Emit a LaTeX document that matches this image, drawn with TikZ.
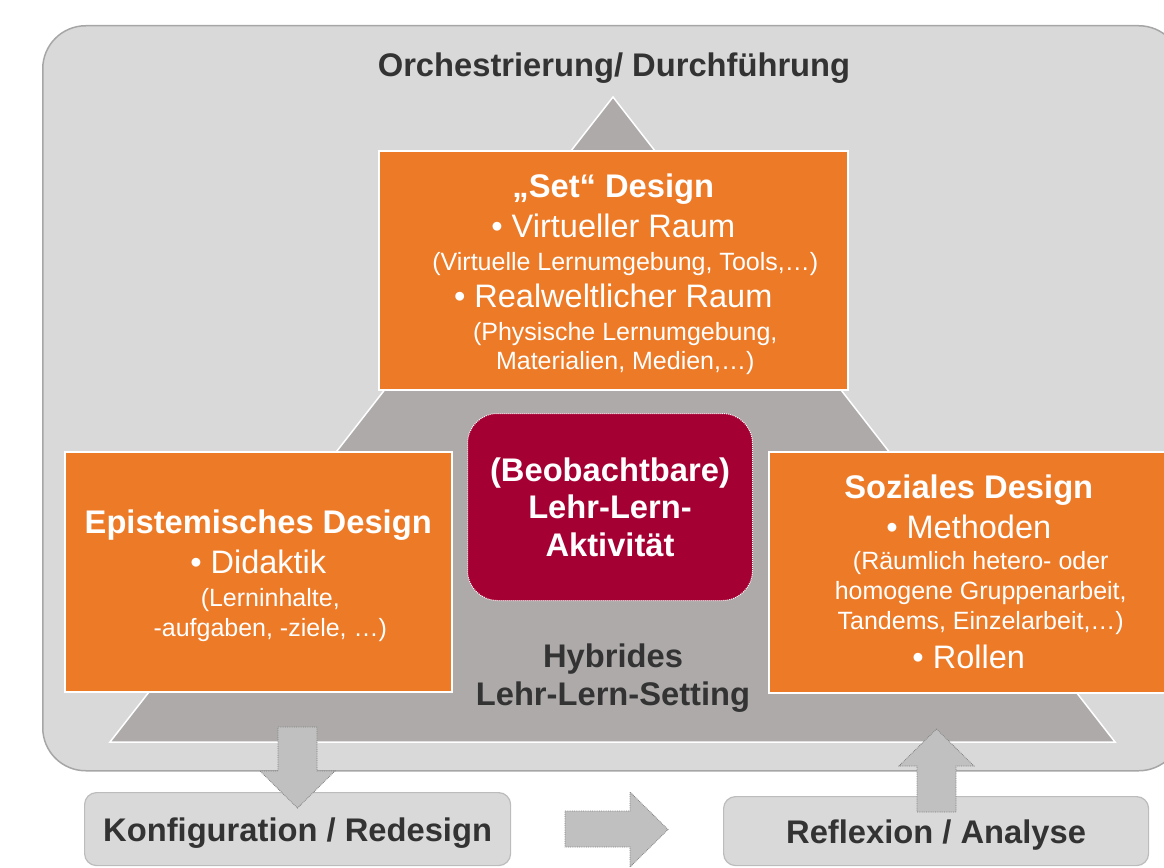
\documentclass[tikz,border=0pt]{standalone}
\usepackage{fontspec}
\setmainfont{Liberation Sans}

\definecolor{framefill}{HTML}{D9D9D9}
\definecolor{frameedge}{HTML}{A6A6A6}
\definecolor{pyramid}{HTML}{AEAAAA}
\definecolor{designorange}{HTML}{ED7A27}
\definecolor{activityred}{HTML}{A50034}
\definecolor{darktext}{HTML}{333333}
\definecolor{arrowfill}{HTML}{C0C0C0}
\definecolor{arrowedge}{HTML}{7F7F7F}

% font sizes: headings, bullet items, notes in parentheses
\newcommand\hdfnt{\fontsize{32.7pt}{38pt}\selectfont\bfseries}
\newcommand\itfnt{\fontsize{32.5pt}{38pt}\selectfont}
\newcommand\ntfnt{\fontsize{25pt}{31pt}\selectfont}
\newcommand\ntpad{\hspace*{24pt}}
% taller first line, pushes a text block a little lower in its box
\newcommand\toprule{\rule{0pt}{32pt}}

\begin{document}
\begin{tikzpicture}[x=1pt,y=-1pt,
  designbox/.style={draw=white, line width=1.5pt, fill=designorange, text=white,
    align=center, inner sep=0pt, anchor=north west, font=\ntfnt},
  bottombox/.style={draw=frameedge!75, line width=1.2pt, fill=framefill,
    rounded corners=12pt, text=darktext, font=\hdfnt, inner sep=0pt, anchor=north west},
  blockarrow/.style={fill=arrowfill, draw=arrowedge, densely dotted, line width=0.8pt}]
\useasboundingbox (0,0) rectangle (1164,867);
\clip (0,0) rectangle (1164,867);

% outer frame
\node[draw=frameedge, line width=1.5pt, fill=framefill, rounded corners=43pt,
  minimum width=1139pt, minimum height=745pt, anchor=north west, inner sep=0pt] (frame) at (42,25) {};

% pyramid of the hybrid setting
\path[fill=pyramid, draw=white, line width=1.5pt] (613,97) -- (110,742) -- (1115,742) -- cycle;

\node[anchor=base, text=darktext, font=\hdfnt, inner sep=0pt] (title) at (614,76) {Orchestrierung/ Durchführung};

% design boxes
\node[designbox, minimum width=469pt, minimum height=239pt] (setbox) at (378,150) {%
  {\hdfnt\toprule „Set“ Design}\\[9pt]
  {\itfnt • Virtueller Raum}\\[2pt]
  \ntpad(Virtuelle Lernumgebung, Tools,…)\\[6pt]
  {\itfnt • Realweltlicher Raum}\\[2pt]
  \ntpad(Physische Lernumgebung,\\[-2pt]
  \ntpad Materialien, Medien,…)};

\node[designbox, minimum width=387pt, minimum height=240pt] (epibox) at (64,451) {%
  {\hdfnt\toprule Epistemisches Design}\\[9pt]
  {\itfnt • Didaktik}\\[2pt]
  \ntpad(Lerninhalte,\\[-1pt]
  \ntpad -aufgaben, -ziele, …)};

\node[designbox, minimum width=400pt, minimum height=241pt] (socbox) at (768,451) {%
  {\hdfnt Soziales Design}\\[9pt]
  {\itfnt • Methoden}\\[0pt]
  \ntpad(Räumlich hetero- oder\\[-1pt]
  \ntpad homogene Gruppenarbeit,\\[-1pt]
  \ntpad Tandems, Einzelarbeit,…)\\[8pt]
  {\itfnt • Rollen}};

% observable activity
\node[draw=white, densely dotted, line width=1pt, fill=activityred, rounded corners=30pt,
  minimum width=285pt, minimum height=187pt, anchor=north west, inner sep=0pt,
  text=white, align=center, font={\fontsize{32.7pt}{37.5pt}\selectfont\bfseries}] (activity) at (467,413)
  {(Beobachtbare)\\Lehr-Lern-\\Aktivität};

\node[align=center, text=darktext, font=\hdfnt, inner sep=0pt] (setting) at (613,678)
  {Hybrides\\Lehr-Lern-Setting};

% cycle boxes below
\node[bottombox, minimum width=426pt, minimum height=73pt] (konfig) at (84,792) {\toprule Konfiguration / Redesign};
\node[bottombox, minimum width=425pt, minimum height=69pt] (reflex) at (723,796) {\toprule Reflexion / Analyse};

% block arrows
\path[blockarrow] (278,727) -- (317,727) -- (317,771) -- (335,771) -- (297.5,808)
  -- (260,771) -- (278,771) -- cycle;
\path[blockarrow] (565,811) -- (630,811) -- (630,792) -- (668,829.5) -- (630,867)
  -- (630,847) -- (565,847) -- cycle;
\path[blockarrow] (936.5,729) -- (974,766) -- (956,766) -- (956,812) -- (917,812)
  -- (917,766) -- (899,766) -- cycle;
\end{tikzpicture}
\end{document}
